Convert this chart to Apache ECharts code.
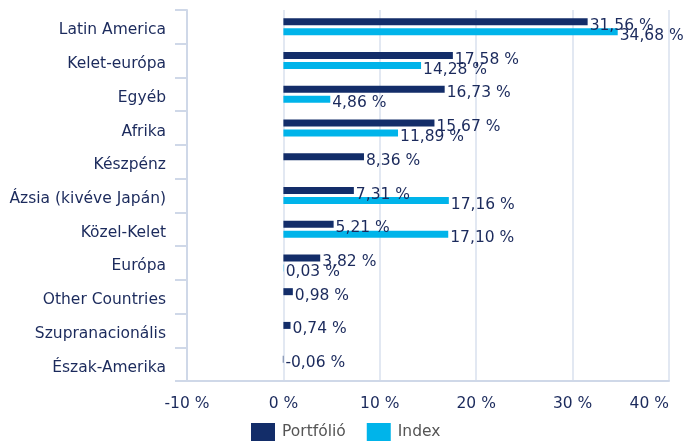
<!DOCTYPE html>
<html>
<head>
<meta charset="utf-8">
<script src="https://cdn.jsdelivr.net/npm/echarts@6/dist/echarts.min.js"></script>
<style>
html,body{margin:0;padding:0;background:#fff;overflow:hidden;}
#chart{width:684px;height:444px;}
</style>
</head>
<body>
<div id="chart"></div>
<script>
var categories = ['Latin America','Kelet-európa','Egyéb','Afrika','Készpénz','Ázsia (kivéve Japán)','Közel-Kelet','Európa','Other Countries','Szupranacionális','Észak-Amerika'];
var portfolio = [31.56, 17.58, 16.73, 15.67, 8.36, 7.31, 5.21, 3.82, 0.98, 0.74, -0.06];
var indexVals = [34.68, 14.28, 4.86, 11.89, null, 17.16, 17.10, 0.03, null, null, null];
var seriesNames = ['Portfólió','Index'];
var xTicks = [-10, 0, 10, 20, 30, 40];

var FONT = 'DejaVu Sans';
var TXT = '#1b2a5c';
var FS = 15.5;
function fmt(v){ return v.toFixed(2).replace('.', ',') + ' %'; }

var chart = echarts.init(document.getElementById('chart'), null, {renderer:'canvas'});
var labelCfg = {
  show: true, position: 'right', distance: 2, offset: [0, 4],
  color: TXT, fontFamily: FONT, fontSize: FS,
  formatter: function(p){ return p.value == null ? '' : fmt(p.value); }
};
chart.setOption({
  animation: false,
  grid: {left: 187, right: 15, top: 10, bottom: 63, containLabel: false},
  legend: {
    data: seriesNames, left: 251, bottom: 3, padding: 0, itemWidth: 24, itemHeight: 18, itemGap: 21,
    icon: 'rect',
    textStyle: {color: '#555555', fontFamily: FONT, fontSize: FS, padding: [0,0,0,2]}
  },
  xAxis: {
    type: 'value', min: xTicks[0], max: xTicks[xTicks.length-1], interval: 10,
    axisLine: {show: true, lineStyle: {color: '#cfd8e8', width: 2}},
    axisTick: {show: false},
    splitLine: {show: true, lineStyle: {color: '#d8e0ee', width: 1.5}},
    axisLabel: {color: TXT, fontFamily: FONT, fontSize: FS, margin: 15, alignMaxLabel: 'right',
      formatter: function(v){ return v + ' %'; }}
  },
  yAxis: {
    type: 'category', data: categories, inverse: true,
    axisLine: {show: true, onZero: false, lineStyle: {color: '#cfd8e8', width: 2}},
    axisTick: {show: true, length: 12, lineStyle: {color: '#cfd8e8', width: 2}},
    axisLabel: {color: TXT, fontFamily: FONT, fontSize: FS, margin: 21,
      formatter: function(v){ return '{a|' + v + '}'; },
      rich: {a: {color: TXT, fontFamily: FONT, fontSize: FS, padding: [7,0,0,0]}}}
  },
  series: [
    {name: seriesNames[0], type: 'bar', data: portfolio, barWidth: 7, barGap: '43%',
     itemStyle: {color: '#132d69'}, label: labelCfg},
    {name: seriesNames[1], type: 'bar', data: indexVals, barWidth: 7,
     itemStyle: {color: '#00b4ea'}, label: labelCfg}
  ]
});
</script>
</body>
</html>
